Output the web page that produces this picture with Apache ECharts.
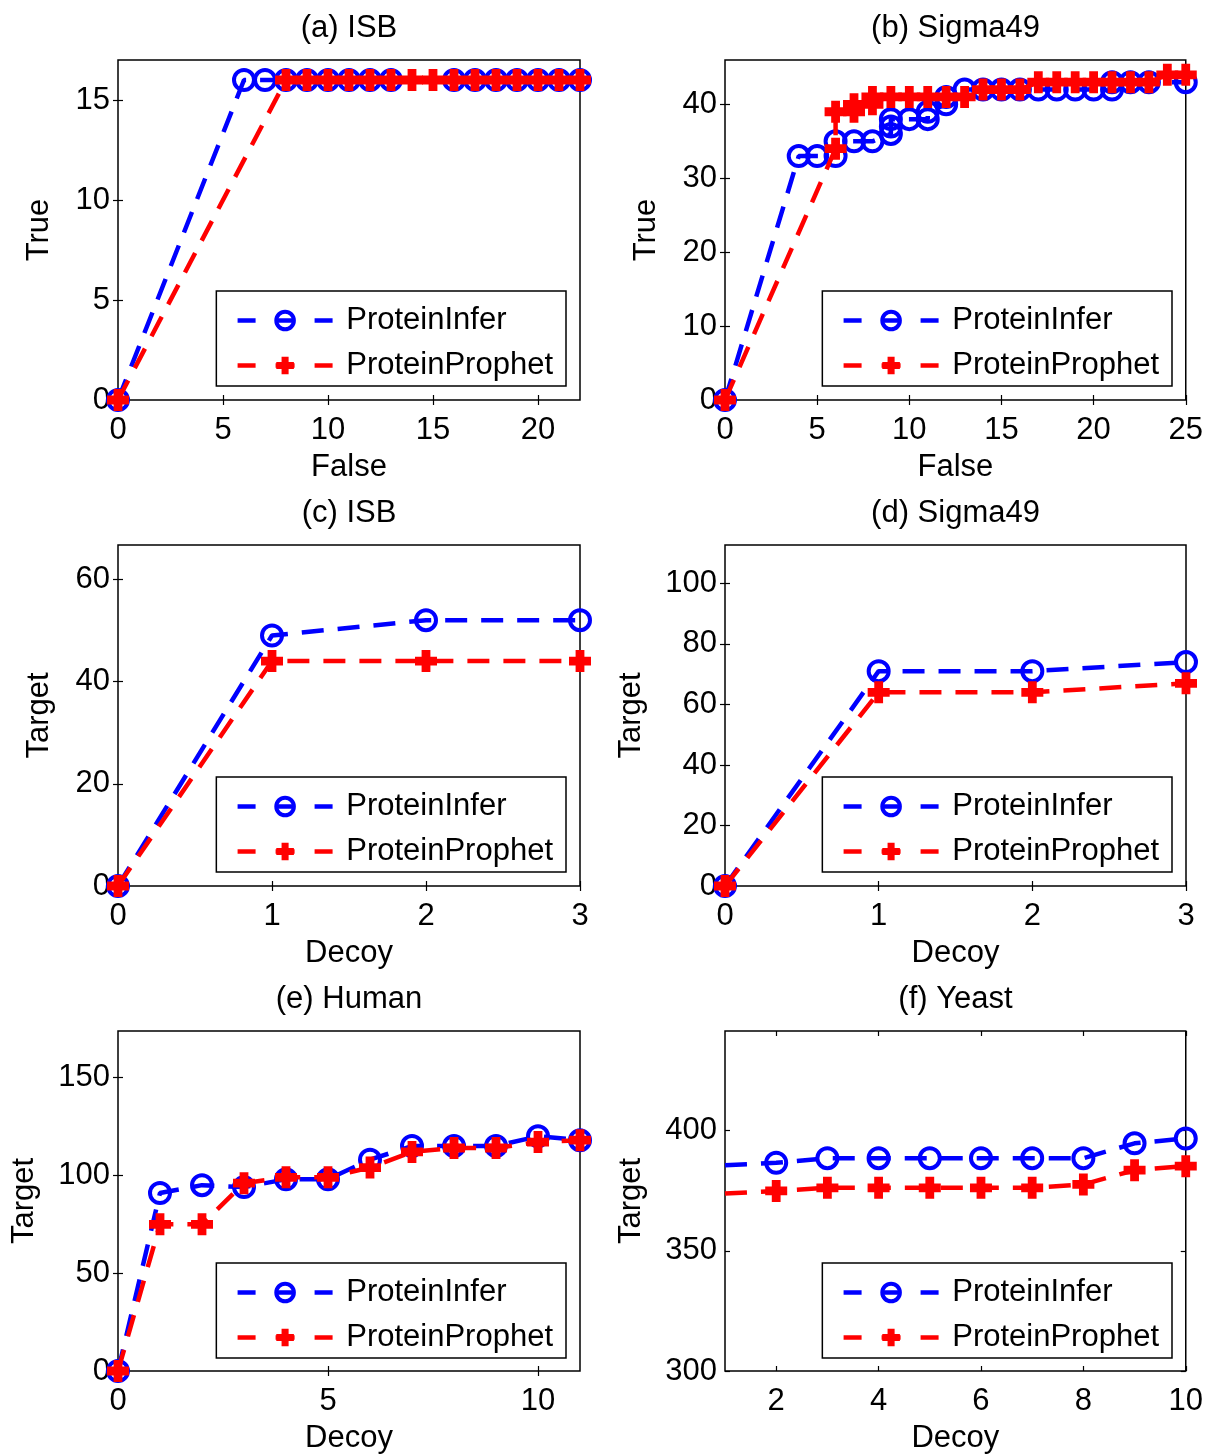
<!DOCTYPE html>
<html><head><meta charset="utf-8">
<script src="https://cdn.jsdelivr.net/npm/echarts@6/dist/echarts.min.js"></script>
<style>html,body{margin:0;padding:0;background:#fff}#c{width:1206px;height:1455px}</style>
</head><body><div id="c"></div>
<script>
// ---------------- DATA ----------------
const seriesNames = ['ProteinInfer', 'ProteinProphet'];
const panelTitles = ['(a) ISB', '(b) Sigma49', '(c) ISB', '(d) Sigma49', '(e) Human', '(f) Yeast'];
const xNames = ['False', 'False', 'Decoy', 'Decoy', 'Decoy', 'Decoy'];
const yNames = ['True', 'True', 'Target', 'Target', 'Target', 'Target'];

// (a) ISB
const aInferX = [0, 6, 7, 8, 9, 10, 11, 12, 13, 16, 17, 18, 19, 20, 21, 22];
const aInferY = [0, 16, 16, 16, 16, 16, 16, 16, 16, 16, 16, 16, 16, 16, 16, 16];
const aProphX = [0, 8, 9, 10, 11, 12, 13, 14, 15, 16, 17, 18, 19, 20, 21, 22];
const aProphY = [0, 16, 16, 16, 16, 16, 16, 16, 16, 16, 16, 16, 16, 16, 16, 16];
const aXTicks = [0, 5, 10, 15, 20];
const aYTicks = [0, 5, 10, 15];

// (b) Sigma49
const bInferX = [0, 4, 5, 6, 6, 7, 8, 9, 9, 9, 10, 11, 11, 12, 12, 13, 14, 15, 16, 17, 18, 19, 20, 21, 21, 22, 23, 25];
const bInferY = [0, 33, 33, 33, 35, 35, 35, 36, 37, 38, 38, 38, 39, 40, 41, 42, 42, 42, 42, 42, 42, 42, 42, 42, 43, 43, 43, 43];
const bProphX = [0, 6, 6, 7, 7, 8, 8, 9, 10, 11, 12, 13, 14, 15, 16, 17, 18, 19, 20, 21, 22, 23, 24, 25];
const bProphY = [0, 34, 39, 39, 40, 40, 41, 41, 41, 41, 41, 41, 42, 42, 42, 43, 43, 43, 43, 43, 43, 43, 44, 44];
const bXTicks = [0, 5, 10, 15, 20, 25];
const bYTicks = [0, 10, 20, 30, 40];

// (c) ISB
const cX = [0, 1, 2, 3];
const cInferY = [0, 49, 52, 52];
const cProphY = [0, 44, 44, 44];
const cXTicks = [0, 1, 2, 3];
const cYTicks = [0, 20, 40, 60];

// (d) Sigma49
const dX = [0, 1, 2, 3];
const dInferY = [0, 71, 71, 74];
const dProphY = [0, 64, 64, 67];
const dXTicks = [0, 1, 2, 3];
const dYTicks = [0, 20, 40, 60, 80, 100];

// (e) Human
const eX = [0, 1, 2, 3, 4, 5, 6, 7, 8, 9, 10, 11];
const eInferY = [0, 91, 95, 94, 98, 98, 108, 115, 115, 115, 120, 118];
const eProphY = [0, 75, 75, 96, 99, 99, 104, 112, 114, 114, 117, 118];
const eXTicks = [0, 5, 10];
const eYTicks = [0, 50, 100, 150];

// (f) Yeast
const fX = [1, 2, 3, 4, 5, 6, 7, 8, 9, 10];
const fInferY = [385.6, 386.6, 388.5, 388.5, 388.5, 388.5, 388.5, 388.5, 394.7, 396.7];
const fProphY = [373.8, 374.9, 376.2, 376.2, 376.2, 376.2, 376.2, 377.6, 383.5, 385.2];
const fXTicks = [2, 4, 6, 8, 10];
const fYTicks = [300, 350, 400];

// axis extents [xmin, xmax, ymin, ymax]
const extents = [
  [0, 22, 0, 17],
  [0, 25, 0, 46],
  [0, 3, 0, 66.7],
  [0, 3, 0, 112.7],
  [0, 11, 0, 173.8],
  [1, 10, 300, 441.4]
];

const panelData = [
  { ix: aInferX, iy: aInferY, px: aProphX, py: aProphY, xt: aXTicks, yt: aYTicks },
  { ix: bInferX, iy: bInferY, px: bProphX, py: bProphY, xt: bXTicks, yt: bYTicks },
  { ix: cX, iy: cInferY, px: cX, py: cProphY, xt: cXTicks, yt: cYTicks },
  { ix: dX, iy: dInferY, px: dX, py: dProphY, xt: dXTicks, yt: dYTicks },
  { ix: eX, iy: eInferY, px: eX, py: eProphY, xt: eXTicks, yt: eYTicks },
  { ix: fX, iy: fInferY, px: fX, py: fProphY, xt: fXTicks, yt: fYTicks }
];
// (f): first point lies on the left edge and is drawn without a marker
const hideFirstMarker = [false, false, false, false, false, true];

// ---------------- LAYOUT / STYLE ----------------
const W = 1206, H = 1455;
const layout = [
  { left: 118, top: 60, width: 462, height: 340, yGap: 63 },
  { left: 725, top: 60, width: 461, height: 340, yGap: 63 },
  { left: 118, top: 545, width: 462, height: 341, yGap: 63 },
  { left: 725, top: 545, width: 461, height: 341, yGap: 78 },
  { left: 118, top: 1031, width: 462, height: 341, yGap: 78 },
  { left: 725, top: 1031, width: 461, height: 341, yGap: 78 }
];
const FONT = "'Liberation Sans', Arial, Helvetica, sans-serif";
const FS = 31;
const BLUE = '#0000ff', RED = '#ff0000';
const PLUS = 'path://M6,0H14V6H20V14H14V20H6V14H0V6H6Z';
const DASH = [22, 14];

const grids = [], xAxes = [], yAxes = [], series = [], legends = [], graphics = [];

function pairs(xs, ys, hideFirst) {
  return xs.map((x, i) => {
    const item = { value: [x, ys[i]] };
    if (hideFirst && i === 0) item.symbol = 'none';
    return item;
  });
}

layout.forEach((L, i) => {
  const [x0, x1, y0, y1] = extents[i];
  const D = panelData[i];
  grids.push({
    left: L.left, top: L.top, width: L.width, height: L.height,
    show: true, borderColor: '#000', borderWidth: 1.5, backgroundColor: 'transparent'
  });
  const tickStyle = { show: true, inside: true, length: 5, lineStyle: { color: '#000', width: 1.2 } };
  xAxes.push({
    type: 'value', gridIndex: i, position: 'bottom', min: x0, max: x1,
    axisLine: { show: false }, splitLine: { show: false },
    axisTick: Object.assign({ customValues: D.xt }, tickStyle),
    axisLabel: { customValues: D.xt, margin: 15, color: '#000', fontSize: FS, fontFamily: FONT },
    name: xNames[i], nameLocation: 'middle', nameGap: 52,
    nameTextStyle: { color: '#000', fontSize: FS, fontFamily: FONT }
  });
  xAxes.push({
    type: 'value', gridIndex: i, position: 'top', min: x0, max: x1,
    axisLine: { show: false }, splitLine: { show: false },
    axisTick: Object.assign({ customValues: D.xt }, tickStyle),
    axisLabel: { show: false }
  });
  yAxes.push({
    type: 'value', gridIndex: i, position: 'left', min: y0, max: y1,
    axisLine: { show: false }, splitLine: { show: false },
    axisTick: Object.assign({ customValues: D.yt }, tickStyle),
    axisLabel: { customValues: D.yt, margin: 8, color: '#000', fontSize: FS, fontFamily: FONT },
    name: yNames[i], nameLocation: 'middle', nameGap: L.yGap,
    nameTextStyle: { color: '#000', fontSize: FS, fontFamily: FONT }
  });
  yAxes.push({
    type: 'value', gridIndex: i, position: 'right', min: y0, max: y1,
    axisLine: { show: false }, splitLine: { show: false },
    axisTick: Object.assign({ customValues: D.yt }, tickStyle),
    axisLabel: { show: false }
  });

  series.push({
    name: seriesNames[0], type: 'line', xAxisIndex: 2 * i, yAxisIndex: 2 * i,
    data: pairs(D.ix, D.iy, hideFirstMarker[i]), clip: false,
    symbol: 'circle', symbolSize: 20, showAllSymbol: true,
    lineStyle: { color: BLUE, width: 4.5, type: DASH },
    itemStyle: { color: 'rgba(0,0,0,0)', borderColor: BLUE, borderWidth: 4 },
    emphasis: { disabled: true }, animation: false, z: 2
  });
  series.push({
    name: seriesNames[1], type: 'line', xAxisIndex: 2 * i, yAxisIndex: 2 * i,
    data: pairs(D.px, D.py, hideFirstMarker[i]), clip: false,
    symbol: PLUS, symbolSize: 22, showAllSymbol: true,
    lineStyle: { color: RED, width: 4.5, type: DASH },
    itemStyle: { color: RED, borderWidth: 0 },
    emphasis: { disabled: true }, animation: false, z: 3
  });

  legends.push({
    data: [
      { name: seriesNames[0], itemStyle: { borderWidth: 4, borderColor: BLUE, color: 'rgba(0,0,0,0)' } },
      { name: seriesNames[1], itemStyle: { borderWidth: 0, color: RED } }
    ],
    orient: 'vertical',
    right: W - (L.left + L.width - 14),
    bottom: H - (L.top + L.height - 14),
    itemWidth: 95, itemHeight: 22, itemGap: 14,
    padding: [14, 13, 5, 19],
    borderColor: '#000', borderWidth: 1.5, backgroundColor: '#fff',
    formatter: ' {name}',
    lineStyle: { width: 4.5, type: [18, 20, 19, 20, 18, 100] },
    textStyle: { color: '#000', fontSize: FS, fontFamily: FONT },
    selectedMode: false
  });

  graphics.push({
    type: 'text', x: L.left + L.width / 2, y: L.top - 32,
    style: { text: panelTitles[i], textAlign: 'center', textVerticalAlign: 'middle',
             fontSize: FS, fontFamily: FONT, fill: '#000' }
  });
});

const chart = echarts.init(document.getElementById('c'), null, { renderer: 'canvas' });
chart.setOption({
  backgroundColor: '#fff',
  animation: false,
  grid: grids, xAxis: xAxes, yAxis: yAxes, series: series,
  legend: legends, graphic: graphics
});
</script></body></html>
